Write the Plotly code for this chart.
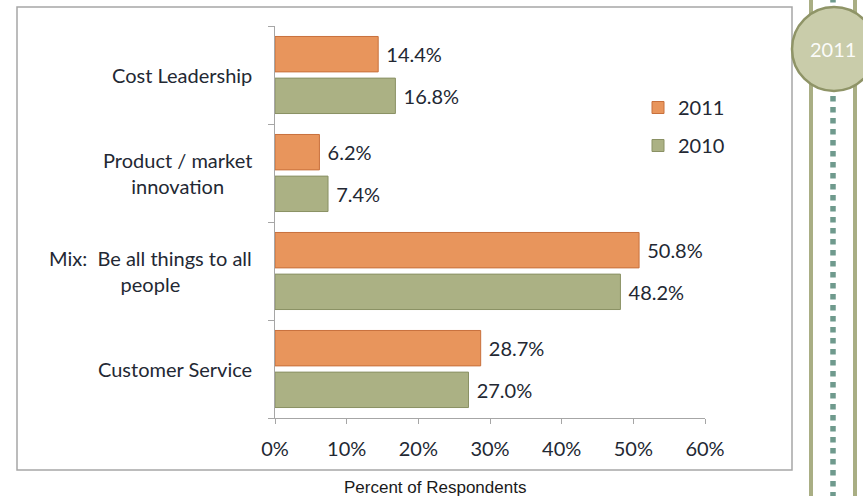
import plotly.graph_objects as go

# Competitive strategy survey: share of respondents by primary strategy
categories = [
    "Cost Leadership",
    "Product / market<br>innovation",
    "Mix:  Be all things to all<br>people",
    "Customer Service",
]
share_2011 = [14.4, 6.2, 50.8, 28.7]
share_2010 = [16.8, 7.4, 48.2, 27.0]
x_ticks = [0, 10, 20, 30, 40, 50, 60]
x_tick_labels = ["0%", "10%", "20%", "30%", "40%", "50%", "60%"]
axis_title = "Percent of Respondents"
badge_year = "2011"

W, H = 863, 496
L, R, T, B = 275, 158, 26, 78
PW, PH = W - L - R, H - T - B

FONT = "Lato"
TEXT = "#232833"
GRID = "#A6A6A6"
ORANGE, ORANGE_EDGE = "#E8955C", "#C8703C"
GREEN, GREEN_EDGE = "#ABB184", "#8A9164"


def px_x(px):
    return (px - L) / PW


def px_y(py):
    return (T + PH - py) / PH


fig = go.Figure()
fig.add_trace(go.Bar(
    y=categories, x=share_2010, orientation="h", name="2010",
    legendgroup="y2010", legendrank=2,
    marker=dict(color=GREEN, line=dict(color=GREEN_EDGE, width=1)),
    text=share_2010, texttemplate="\u00a0%{x:.1f}%", textposition="outside",
    textfont=dict(family=FONT, size=20, color=TEXT), cliponaxis=False,
    constraintext="none",
))
fig.add_trace(go.Bar(
    y=categories, x=share_2011, orientation="h", name="2011",
    legendgroup="y2011", legendrank=1,
    marker=dict(color=ORANGE, line=dict(color=ORANGE_EDGE, width=1)),
    text=share_2011, texttemplate="\u00a0%{x:.1f}%", textposition="outside",
    textfont=dict(family=FONT, size=20, color=TEXT), cliponaxis=False,
    constraintext="none",
))

shapes = [
    # chart frame
    dict(type="rect", xref="paper", yref="paper",
         x0=px_x(17), x1=px_x(792), y0=px_y(470), y1=px_y(7),
         line=dict(color=GRID, width=1.5), fillcolor="rgba(0,0,0,0)", layer="below"),
    # timeline rails
    dict(type="line", xref="paper", yref="paper",
         x0=px_x(811), x1=px_x(811), y0=px_y(0), y1=px_y(H),
         line=dict(color="#A9AE84", width=4)),
    dict(type="line", xref="paper", yref="paper",
         x0=px_x(855), x1=px_x(855), y0=px_y(0), y1=px_y(H),
         line=dict(color="#A9AE84", width=4)),
    dict(type="line", xref="paper", yref="paper",
         x0=px_x(833), x1=px_x(833), y0=px_y(-3), y1=px_y(H),
         line=dict(color="#6F9A8D", width=5.5, dash="5.5px,5.5px")),
    # year badge
    dict(type="circle", xref="paper", yref="paper",
         x0=px_x(792), x1=px_x(876), y0=px_y(91), y1=px_y(7),
         line=dict(color="#8F9467", width=2.5), fillcolor="#C9CCAA"),
]

annotations = [
    dict(xref="paper", yref="y", x=0, y=c, text=c, xanchor="right",
         xshift=-21, align="center", showarrow=False,
         font=dict(family=FONT, size=20, color=TEXT))
    for c in categories
]
annotations.append(dict(
    xref="paper", yref="paper", x=px_x(435), y=px_y(487), text=axis_title,
    showarrow=False, xanchor="center", yanchor="middle",
    font=dict(family="Liberation Sans, Arial", size=17, color="#1A1A1A"),
))
annotations.append(dict(
    xref="paper", yref="paper", x=px_x(833), y=px_y(49), text=badge_year,
    showarrow=False, xanchor="center", yanchor="middle",
    font=dict(family=FONT, size=20, color="rgba(255,255,255,0.95)"),
))

fig.update_layout(
    width=W, height=H,
    margin=dict(l=L, r=R, t=T, b=B, pad=0),
    paper_bgcolor="white", plot_bgcolor="white",
    barmode="group", bargap=0.15, bargroupgap=0.15,
    showlegend=True,
    legend=dict(
        traceorder="grouped", tracegroupgap=9,
        x=px_x(638), y=px_y(88), xanchor="left", yanchor="top",
        font=dict(family=FONT, size=20, color=TEXT),
        bgcolor="rgba(0,0,0,0)",
    ),
    xaxis=dict(
        range=[0, 60], tickvals=x_ticks, ticktext=x_tick_labels,
        showgrid=False, zeroline=False, showline=True, linecolor=GRID, linewidth=1,
        ticks="outside", ticklen=5, tickcolor=GRID,
        tickfont=dict(family=FONT, size=20, color=TEXT), ticklabelstandoff=8,
        fixedrange=True,
    ),
    yaxis=dict(
        categoryorder="array", categoryarray=categories[::-1],
        showticklabels=False, showgrid=False, zeroline=False,
        showline=True, linecolor=GRID, linewidth=1,
        ticks="outside", tickson="boundaries", ticklen=6, tickcolor=GRID,
        fixedrange=True,
    ),
    shapes=shapes,
    annotations=annotations,
)

fig.write_html("out.html")
